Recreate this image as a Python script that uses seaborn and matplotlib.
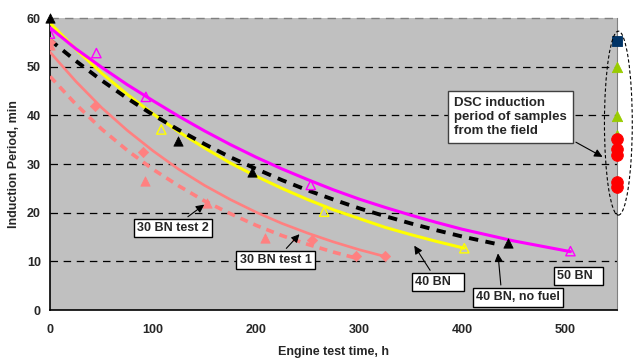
import matplotlib
matplotlib.use("Agg")
import matplotlib.pyplot as plt
from matplotlib.patches import Ellipse
import seaborn as sns


# ── Trend curves ─────────────────────────────────────────────────
HOURS_50 = [0, 25, 50, 75, 100, 125, 150, 175, 200, 225, 250, 275, 300, 325,
            350, 375, 400, 425, 450, 475, 505]
IP_50 = [58.0, 53.7, 49.9, 46.3, 43.0, 39.8, 36.8, 34.0, 31.4, 29.0, 26.8, 24.7,
         22.8, 21.1, 19.5, 18.0, 16.6, 15.4, 14.2, 13.2, 12.0]

HOURS_40 = [0, 25, 50, 75, 100, 125, 150, 175, 200, 225, 250, 275, 300, 325,
            350, 375, 402]
IP_40 = [59.0, 53.6, 48.7, 44.3, 40.3, 36.6, 33.3, 30.2, 27.5, 25.0, 22.7, 20.6,
         18.8, 17.0, 15.5, 14.1, 12.7]

HOURS_40NF = [0, 25, 50, 75, 100, 125, 150, 175, 200, 225, 250, 275, 300, 325,
              350, 375, 400, 435]
IP_40NF = [55.5, 51.2, 47.2, 43.5, 40.1, 37.0, 34.1, 31.4, 29.0, 26.7, 24.6, 22.7,
           20.9, 19.3, 17.8, 16.4, 15.1, 13.5]

HOURS_30T1 = [0, 25, 50, 75, 100, 125, 150, 175, 200, 225, 250, 275, 300, 325]
IP_30T1 = [53.0, 47.0, 41.6, 36.9, 32.7, 28.9, 25.6, 22.7, 20.1, 17.8, 15.8, 14.0,
           12.4, 11.0]

HOURS_30T2 = [0, 25, 50, 75, 100, 125, 150, 175, 200, 225, 250, 275, 300]
IP_30T2 = [48.0, 42.3, 37.2, 32.8, 28.9, 25.5, 22.4, 19.8, 17.4, 15.3, 13.5, 11.9,
           10.5]

# ── Measured points ──────────────────────────────────────────────
PTS_50_X = [0, 45, 93, 253, 505]
PTS_50_Y = [56.8, 52.8, 43.8, 25.7, 12.1]

PTS_40_X = [108, 266, 402]
PTS_40_Y = [37.1, 20.2, 12.7]

PTS_40NF_X = [0, 124, 196, 444]
PTS_40NF_Y = [60.0, 34.8, 28.4, 13.7]

PTS_30T1_X = [0, 44, 90, 254, 297, 325]
PTS_30T1_Y = [55.0, 42.0, 32.5, 14.4, 11.0, 11.0]

PTS_30T2_X = [0, 92, 152, 209]
PTS_30T2_Y = [54.4, 26.6, 22.0, 14.9]

# field samples (DSC), plotted at the right edge
FIELD_X = 550
FIELD_SQ = [55.3]
FIELD_TRI = [50.0, 39.9, 36.0]
FIELD_CIRC = [35.1, 33.0, 31.8, 26.4, 25.3]

MAGENTA = "#FF00FF"
YELLOW = "#FFFF00"
SALMON = "#FF8080"

sns.set_style("white")
plt.rcParams["font.family"] = ["Liberation Sans", "DejaVu Sans"]
plt.rcParams["font.weight"] = "bold"

fig = plt.figure(figsize=(6.34, 3.58), dpi=100)
ax = fig.add_axes([0.0789, 0.134, 0.894, 0.8156])
ax.set_facecolor("#C0C0C0")

# grid lines
for gy in [10, 20, 30, 40, 50]:
    ax.axhline(gy, color="black", lw=0.9, dashes=(6, 4.5), zorder=1)
ax.axhline(60, color="#808080", lw=1.0, dashes=(6, 4.5), zorder=1, clip_on=False)

# ── Curves ───────────────────────────────────────────────────────
sns.lineplot(x=HOURS_30T2, y=IP_30T2, color=SALMON, lw=2.6,
             linestyle=(0, (2.2, 1.7)), ax=ax, zorder=3)
sns.lineplot(x=HOURS_30T1, y=IP_30T1, color=SALMON, lw=1.9, ax=ax, zorder=3)
sns.lineplot(x=HOURS_40, y=IP_40, color=YELLOW, lw=2.2, ax=ax, zorder=4)
sns.lineplot(x=HOURS_40NF, y=IP_40NF, color="black", lw=2.8,
             linestyle=(0, (2.4, 1.9)), ax=ax, zorder=5)
sns.lineplot(x=HOURS_50, y=IP_50, color=MAGENTA, lw=2.2, ax=ax, zorder=4)

# ── Markers ──────────────────────────────────────────────────────
sns.scatterplot(x=PTS_30T2_X, y=PTS_30T2_Y, marker="^", s=45, color=SALMON,
                edgecolor=SALMON, ax=ax, zorder=6)
sns.scatterplot(x=PTS_30T1_X, y=PTS_30T1_Y, marker="D", s=28, color=SALMON,
                edgecolor=SALMON, ax=ax, zorder=6)
sns.scatterplot(x=PTS_40NF_X, y=PTS_40NF_Y, marker="^", s=45, color="black",
                edgecolor="black", ax=ax, zorder=6, clip_on=False)
sns.scatterplot(x=PTS_40_X, y=PTS_40_Y, marker="^", s=45, facecolor="none",
                edgecolor=YELLOW, linewidth=1.0, ax=ax, zorder=6)
sns.scatterplot(x=PTS_50_X, y=PTS_50_Y, marker="^", s=45, facecolor="none",
                edgecolor=MAGENTA, linewidth=1.0, ax=ax, zorder=6)

sns.scatterplot(x=[FIELD_X] * len(FIELD_SQ), y=FIELD_SQ, marker="s", s=60,
                color="#003366", edgecolor="#003366", ax=ax, zorder=7, clip_on=False)
sns.scatterplot(x=[FIELD_X] * len(FIELD_TRI), y=FIELD_TRI, marker="^", s=55,
                color="#99CC00", edgecolor="#99CC00", ax=ax, zorder=7, clip_on=False)
sns.scatterplot(x=[FIELD_X] * len(FIELD_CIRC), y=FIELD_CIRC, marker="o", s=70,
                color="#FF0000", edgecolor="#FF0000", ax=ax, zorder=7, clip_on=False)

ax.add_patch(Ellipse((551.5, 38.4), 27, 37.8, fill=False, ec="black", lw=0.8,
                     ls=(0, (3, 2)), clip_on=False, zorder=8))

# ── Labels ───────────────────────────────────────────────────────
box = dict(boxstyle="square,pad=0.25", fc="white", ec="black", lw=1.0)
arr = dict(arrowstyle="-|>", color="black", lw=0.8, mutation_scale=12)

ax.annotate("30 BN test 2", xy=(151.8, 22.0), xytext=(119, 16.85), ha="center",
            va="center", fontsize=9, fontweight="bold", bbox=box, arrowprops=arr,
            zorder=9)
ax.annotate("30 BN test 1", xy=(243.9, 16.0), xytext=(218.8, 10.27), ha="center",
            va="center", fontsize=9, fontweight="bold", bbox=box, arrowprops=arr,
            zorder=9)
ax.annotate("40 BN   ", xy=(352, 13.7), xytext=(376.3, 5.7), ha="center",
            va="center", fontsize=9, fontweight="bold", bbox=box, arrowprops=arr,
            zorder=9)
ax.annotate("40 BN, no fuel", xy=(434.4, 12.2), xytext=(454.3, 2.6), ha="center",
            va="center", fontsize=9, fontweight="bold", bbox=box,
            arrowprops=dict(arr, relpos=(0.3, 1.0)), zorder=9)
ax.text(512.4, 7.05, "50 BN  ", ha="center", va="center", fontsize=9,
        fontweight="bold", bbox=box, zorder=9)
ax.annotate("DSC induction\nperiod of samples\nfrom the field", xy=(538.5, 31.2),
            xytext=(447, 39.65), ha="center", va="center", multialignment="left",
            fontsize=9.5, fontweight="bold", linespacing=1.25,
            bbox=dict(boxstyle="square,pad=0.45", fc="white", ec="#404040", lw=1.0),
            arrowprops=dict(arr, relpos=(1.0, 0.0)), zorder=9)

# ── Axes ─────────────────────────────────────────────────────────
ax.set_xlim(0, 550)
ax.set_ylim(0, 60)
ax.set_xticks([0, 100, 200, 300, 400, 500])
ax.set_yticks([0, 10, 20, 30, 40, 50, 60])
ax.tick_params(axis="x", direction="out", length=4, width=1, labelsize=9, pad=6)
ax.tick_params(axis="y", direction="inout", length=7, width=1, labelsize=9, pad=3)
for lab in ax.get_xticklabels() + ax.get_yticklabels():
    lab.set_fontweight("bold")

ax.spines["top"].set_visible(False)
ax.spines["right"].set_color("#808080")
ax.spines["left"].set_color("black")
ax.spines["bottom"].set_color("black")
ax.spines["left"].set_linewidth(1.2)
ax.spines["bottom"].set_linewidth(1.2)

ax.set_xlabel("Engine test time, h", fontsize=9, fontweight="bold", labelpad=7)
ax.set_ylabel("Induction Period, min", fontsize=9, fontweight="bold", labelpad=5)

fig.savefig("out.png", dpi=100)
